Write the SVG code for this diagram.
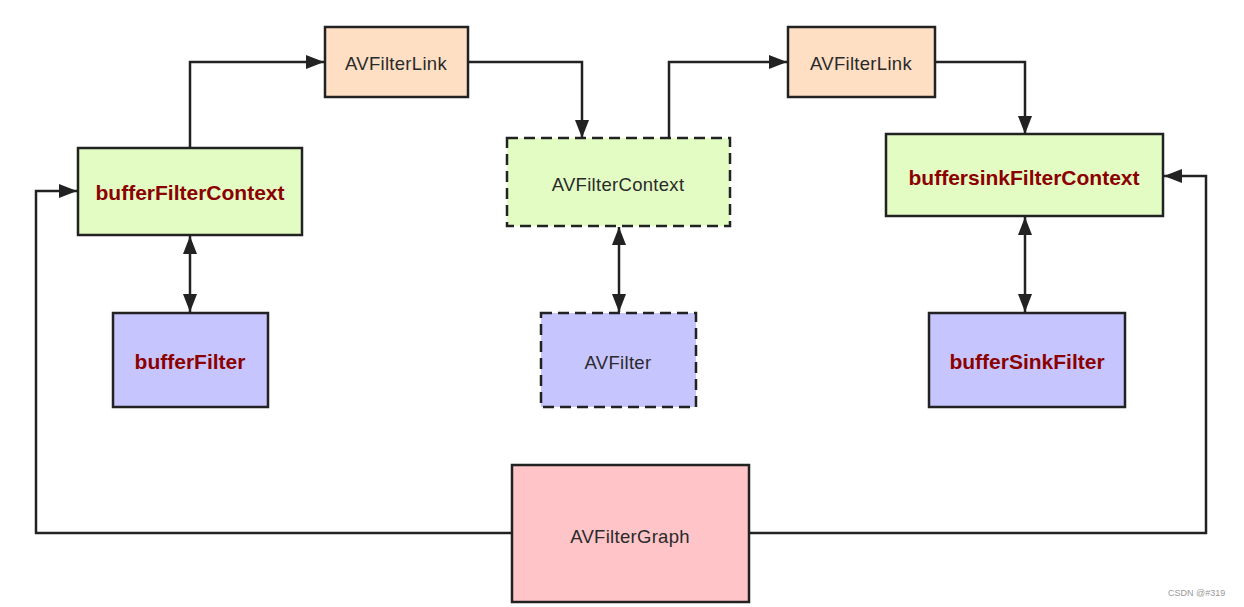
<svg xmlns="http://www.w3.org/2000/svg" width="1244" height="607" viewBox="0 0 1244 607">
<style>
.box{stroke:#222;stroke-width:2.5}
.dash{stroke-dasharray:11 6}
.green{fill:#e2fcc4}
.orange{fill:#fedfc4}
.purple{fill:#c7c5fe}
.pink{fill:#fec4c7}
.t{font-family:"Liberation Sans",Arial,sans-serif;font-size:18.5px;fill:#2a2a2a;text-anchor:middle;dominant-baseline:central;letter-spacing:0.3px}
.b{font-weight:bold;font-size:21px;fill:#8b0000;letter-spacing:0}
.c{fill:none;stroke:#222;stroke-width:2.5}
.wm{font-family:"Liberation Sans",Arial,sans-serif;font-size:9px;fill:#999}
</style>
<defs>
<marker id="ah" markerUnits="userSpaceOnUse" markerWidth="18" markerHeight="14" refX="18" refY="7" orient="auto-start-reverse">
<path d="M0,0 L18,7 L0,14 z" fill="#222"/>
</marker>
</defs>
<rect width="1244" height="607" fill="#fff"/>
<g id="connectors">
<path class="c" d="M190,148 V62 H324" marker-end="url(#ah)"/>
<path class="c" d="M468,62 H582 V138" marker-end="url(#ah)"/>
<path class="c" d="M669,138 V62 H787" marker-end="url(#ah)"/>
<path class="c" d="M935,62 H1025 V134" marker-end="url(#ah)"/>
<path class="c" d="M190,236 V312" marker-start="url(#ah)" marker-end="url(#ah)"/>
<path class="c" d="M619,227 V312" marker-start="url(#ah)" marker-end="url(#ah)"/>
<path class="c" d="M1025,217 V312" marker-start="url(#ah)" marker-end="url(#ah)"/>
<path class="c" d="M512,533 H36 V191 H77" marker-end="url(#ah)"/>
<path class="c" d="M749,533 H1206 V176 H1164" marker-end="url(#ah)"/>
</g>
<g id="link1"><rect class="box orange" x="325" y="27" width="143" height="70"/><text class="t" x="396" y="63">AVFilterLink</text></g>
<g id="link2"><rect class="box orange" x="788" y="27" width="147" height="70"/><text class="t" x="861" y="63">AVFilterLink</text></g>
<g id="bufferFilterContext"><rect class="box green" x="78" y="148" width="224" height="87"/><text class="t b" x="190" y="192">bufferFilterContext</text></g>
<g id="avFilterContext"><rect class="box green dash" x="507" y="138" width="223" height="88"/><text class="t" x="618" y="184">AVFilterContext</text></g>
<g id="buffersinkFilterContext"><rect class="box green" x="886" y="134" width="277" height="82"/><text class="t b" x="1024" y="177">buffersinkFilterContext</text></g>
<g id="bufferFilter"><rect class="box purple" x="113" y="313" width="155" height="94"/><text class="t b" x="190" y="361">bufferFilter</text></g>
<g id="avFilter"><rect class="box purple dash" x="541" y="313" width="155" height="94"/><text class="t" x="618" y="362">AVFilter</text></g>
<g id="bufferSinkFilter"><rect class="box purple" x="929" y="313" width="196" height="94"/><text class="t b" x="1027" y="361">bufferSinkFilter</text></g>
<g id="avFilterGraph"><rect class="box pink" x="512" y="465" width="237" height="137"/><text class="t" x="630" y="536">AVFilterGraph</text></g>
<text class="wm" x="1168" y="596">CSDN @#319</text>
</svg>
